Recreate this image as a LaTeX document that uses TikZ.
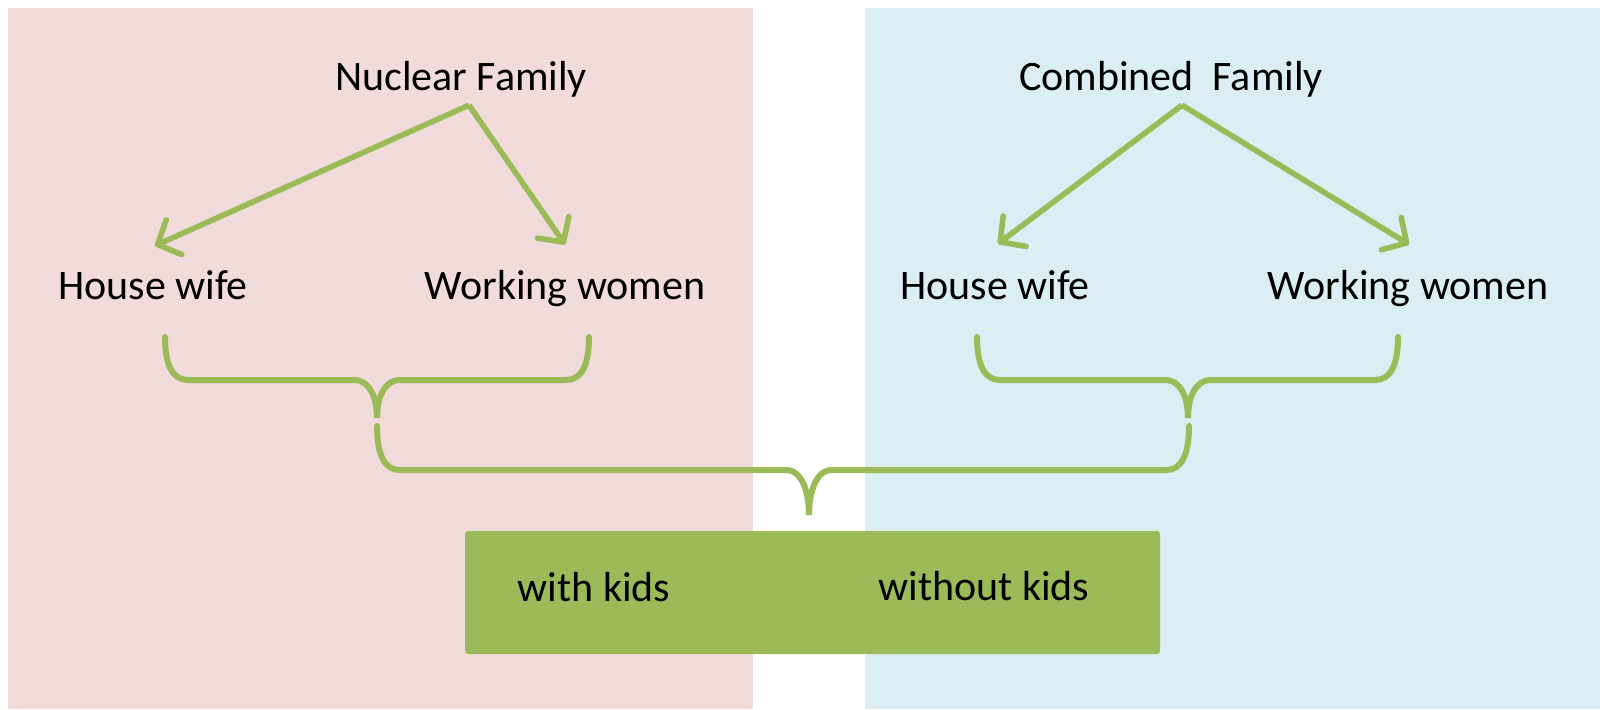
\documentclass[tikz,border=0pt]{standalone}
\usepackage{fontspec}
\setmainfont{Carlito}
\usetikzlibrary{arrows.meta,positioning}
\definecolor{pinkbg}{HTML}{F2DCDB}
\definecolor{bluebg}{HTML}{DAEEF3}
\definecolor{olivegreen}{HTML}{9BBB59}

\begin{document}
\begin{tikzpicture}[x=0.5pt,y=-0.5pt,
					labelnode/.style={inner sep=0pt,
					anchor=base,
					font=\fontsize{21}{25}\selectfont},
					kidsbox/.style={rectangle,
					rounded corners=1.5pt,
					fill=olivegreen,
					minimum width=347.5pt,
					minimum height=61.5pt,
					inner sep=0pt},
					arrowline/.style={draw=olivegreen,
					line width=2.8pt,
					-{Straight Barb[length=9pt,width=19pt,round]}},
					bracket/.style={draw=olivegreen,
					line width=3pt,
					line cap=round}
					]

% fixed size of the page, same as the original
\useasboundingbox (0,0) rectangle (1600,709);

% the two coloured halves
\fill[pinkbg] (8,8) rectangle (753,709);
\fill[bluebg] (865,8) rectangle (1600,709);

%family nodes
\node[labelnode]  (nuclear) at (461,90) {Nuclear Family};
\node[labelnode]  (combined) at (1171,90) {Combined\ \ Family};

%women nodes
\node[labelnode]  (housel) at (153,299) {House wife};
\node[labelnode]  (workl) at (565,299) {Working women};
\node[labelnode]  (houser) at (995,299) {House wife};
\node[labelnode]  (workr) at (1408,299) {Working women};

%kids box
\node[kidsbox]  (kids) at (812.5,592.5) {};
\node[labelnode]  (withk) at (594,601) {with kids};
\node[labelnode]  (withoutk) at (984,600) {without kids};

% Arrows
\draw[arrowline] ([xshift=4pt,yshift=-4pt]nuclear.south) -- ([xshift=1pt,yshift=12pt]housel.north);
\draw[arrowline] ([xshift=4pt,yshift=-4pt]nuclear.south) -- ([xshift=0pt,yshift=12.5pt]workl.north);
\draw[arrowline] ([xshift=5.5pt,yshift=-4pt]combined.south) -- ([xshift=1.5pt,yshift=13pt]houser.north);
\draw[arrowline] ([xshift=5.5pt,yshift=-4pt]combined.south) -- ([xshift=0.5pt,yshift=12.5pt]workr.north);

% Braces
\coordinate (tipl) at (377,418);
\coordinate (tipr) at (1188,418);
\coordinate (tipk) at (809,515);

\draw[bracket] (165,337) .. controls (165,366) and (173,380) .. (188,380) -- (354,380)
	.. controls (370,380) and (377,398) .. (tipl)
	.. controls (377,398) and (384,380) .. (400,380) -- (566,380)
	.. controls (581,380) and (589,366) .. (589,337);

\draw[bracket] (977,337) .. controls (977,366) and (985,380) .. (1000,380) -- (1165,380)
	.. controls (1181,380) and (1188,398) .. (tipr)
	.. controls (1188,398) and (1195,380) .. (1211,380) -- (1375,380)
	.. controls (1390,380) and (1398,366) .. (1398,337);

\draw[bracket] (377,426) .. controls (377,456) and (385,470) .. (400,470) -- (786,470)
	.. controls (802,470) and (809,492) .. (tipk)
	.. controls (809,492) and (816,470) .. (832,470) -- (1166,470)
	.. controls (1181,470) and (1189,456) .. (1189,426);

\end{tikzpicture}
\end{document}
